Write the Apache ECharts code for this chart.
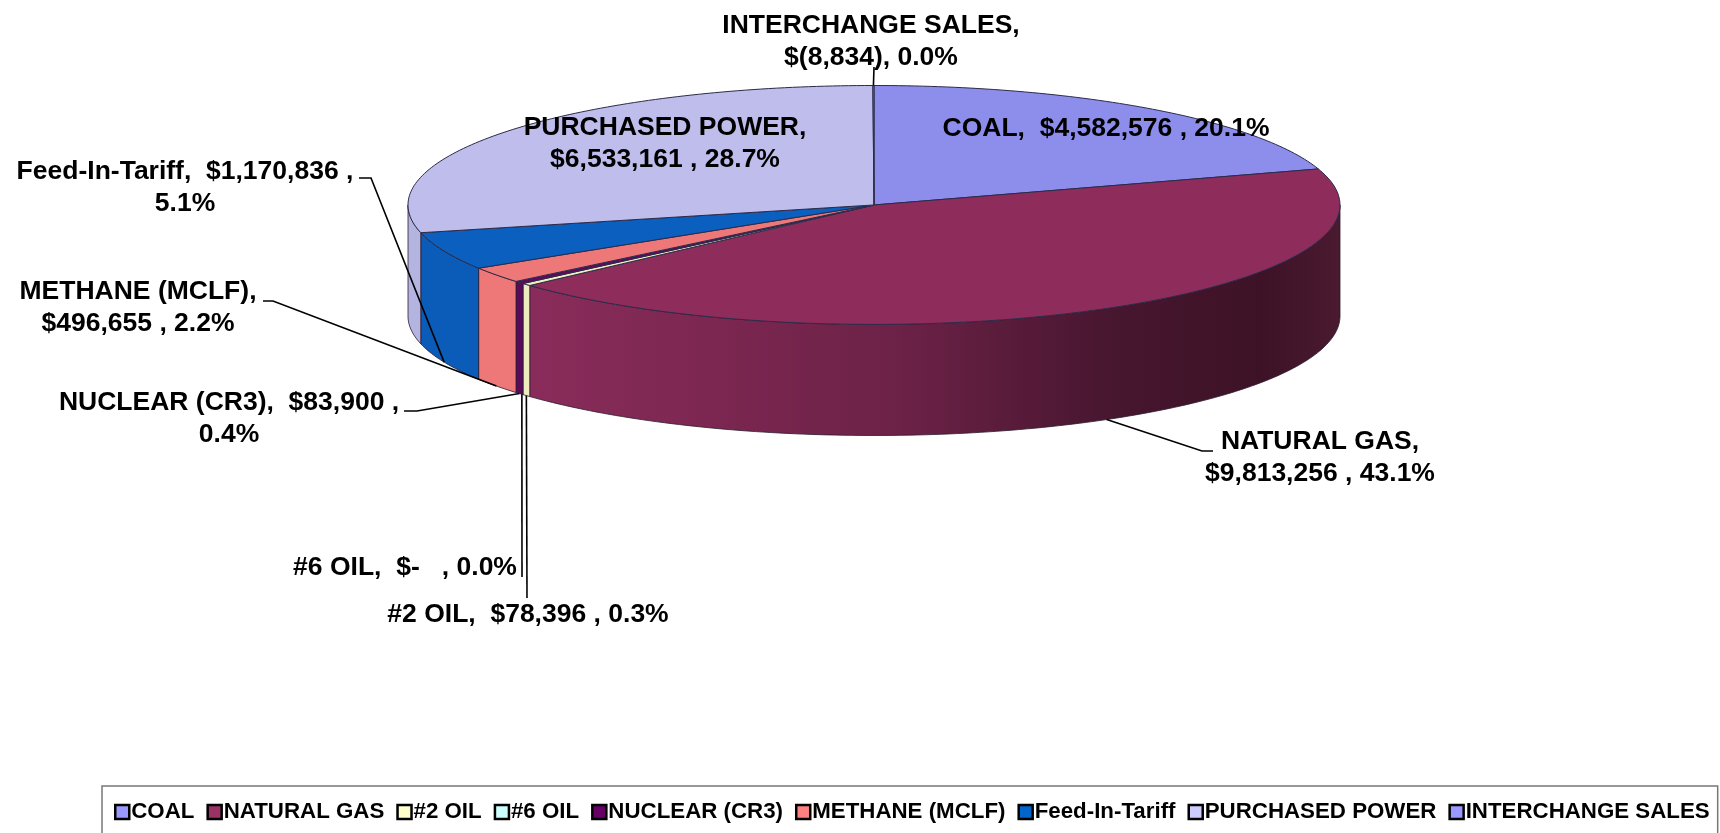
<!DOCTYPE html>
<html>
<head>
<meta charset="utf-8">
<title>Fuel cost pie</title>
<script src="https://cdn.jsdelivr.net/npm/echarts@6/dist/echarts.min.js"></script>
<style>
  html, body { margin: 0; padding: 0; background: #fff; }
  #chart { width: 1720px; height: 833px; }
</style>
</head>
<body>
<div id="chart"></div>
<script>
// values (interchange is negative, the pie plots its size)
const categories = ['COAL', 'NATURAL GAS', '#2 OIL', '#6 OIL', 'NUCLEAR (CR3)', 'METHANE (MCLF)', 'Feed-In-Tariff', 'PURCHASED POWER', 'INTERCHANGE SALES'];
const costs = [4582576, 9813256, 78396, 0, 83900, 496655, 1170836, 6533161, -8834];
const labelTexts = [
  'COAL,  $4,582,576 , 20.1%',
  'NATURAL GAS,\n$9,813,256 , 43.1%',
  '#2 OIL,  $78,396 , 0.3%',
  '#6 OIL,  $-   , 0.0%',
  'NUCLEAR (CR3),  $83,900 ,\n0.4%',
  'METHANE (MCLF),\n$496,655 , 2.2%',
  'Feed-In-Tariff,  $1,170,836 ,\n5.1%',
  'PURCHASED POWER,\n$6,533,161 , 28.7%',
  'INTERCHANGE SALES,\n$(8,834), 0.0%'
];

const legendColors = ['#9999ff', '#993366', '#ffffcc', '#ccffff', '#660066', '#ff8080', '#0066cc', '#ccccff', '#9999ff'];
const topColors = ['#8d8dec', '#8e2d5c', '#f0f0c0', '#c0f0f0', '#5e0a5e', '#ee7777', '#0a5fbf', '#bfbdec', '#8d8dec'];
const sideColors = ['#8686e0', '#8a2c5b', '#ecedbe', '#bce8e8', '#5a0a5a', '#ee7777', '#0a5cb8', '#b4b4e0', '#8686e0'];
const gasSideStops = [
  [0, '#8a2c5b'], [0.45, '#6d2247'], [0.72, '#47162f'], [0.9, '#3d1226'], [1, '#4a1a30']
];

// label centre, then the leader's elbow points, in page pixels
const labelLayout = [
  { x: 1106, y: 129 },
  { x: 1320, y: 458, leader: [[1213, 451], [1202, 451]], rim: true },
  { x: 528, y: 615, leader: [[527, 598]], rim: true },
  { x: 405, y: 568, leader: [[522, 577]], rim: true, edge: true },
  { x: 229, y: 419, leader: [[404, 411], [417, 411]], rim: true },
  { x: 138, y: 308, leader: [[263, 301], [273, 301]], rim: true },
  { x: 185, y: 188, leader: [[359, 178], [371, 178]], rim: true },
  { x: 665, y: 144 },
  { x: 871, y: 42, leader: [[874, 67]] }
];

const DEPTH = 0.93; // pie thickness, in the y axis units

const sizes = costs.map(v => Math.abs(v));
const total = sizes.reduce((a, b) => a + b, 0);
let running = 0;
const shares = sizes.map(v => {
  const from = running / total;
  running += v;
  return [from, running / total];
});

// turn a share of the pie into a point on the unit circle of the hidden axes
function rimPoint(share, drop) {
  const a = share * Math.PI * 2;
  return [Math.sin(a), Math.cos(a) - (drop || 0)];
}

function arcPoints(api, from, to, drop) {
  const pts = [];
  const steps = Math.max(1, Math.ceil((to - from) * 360));
  for (let i = 0; i <= steps; i++) {
    pts.push(api.coord(rimPoint(from + (to - from) * i / steps, drop)));
  }
  return pts;
}

function renderSlice(params, api) {
  const idx = params.seriesIndex;
  const from = api.value(2);
  const to = api.value(3);
  if (to <= from) return { type: 'group', children: [] };
  const children = [];
  const lineStyle = { stroke: '#2b2b4a', lineWidth: 1 };

  // only the front half of the wall can be seen
  const wallFrom = Math.max(from, 0.25);
  const wallTo = Math.min(to, 0.75);
  if (wallTo > wallFrom) {
    const top = arcPoints(api, wallFrom, wallTo, 0);
    const bottom = arcPoints(api, wallFrom, wallTo, DEPTH).reverse();
    const fill = idx === 1
      ? new echarts.graphic.LinearGradient(0, 0, 1, 0, gasSideStops.map(s => ({ offset: s[0], color: s[1] })))
      : sideColors[idx];
    children.push({
      type: 'polygon',
      shape: { points: top.concat(bottom) },
      style: { fill: fill, stroke: '#2b1a30', lineWidth: 0.8 }
    });
  }

  const face = [api.coord([0, 0])].concat(arcPoints(api, from, to, 0));
  children.push({
    type: 'polygon',
    shape: { points: face },
    style: Object.assign({ fill: topColors[idx] }, lineStyle)
  });
  return { type: 'group', children: children };
}

function renderLabel(params, api) {
  const idx = params.dataIndex;
  const mid = (api.value(2) + api.value(3)) / 2;
  const lay = labelLayout[idx];
  const children = [];
  if (lay.leader) {
    const end = api.coord(rimPoint(lay.edge ? api.value(3) + 0.0006 : mid, lay.rim ? DEPTH : 0));
    children.push({
      type: 'polyline',
      shape: { points: lay.leader.concat([end]) },
      style: { fill: 'none', stroke: '#000', lineWidth: 1.6 }
    });
  }
  children.push({
    type: 'text',
    style: {
      text: labelTexts[idx],
      x: lay.x,
      y: lay.y,
      align: 'center',
      verticalAlign: 'middle',
      fill: '#000',
      font: 'bold 26.5px "Liberation Sans", Arial, sans-serif',
      lineHeight: 32
    }
  });
  return { type: 'group', children: children };
}

const sliceSeries = categories.map((name, i) => ({
  name: name,
  type: 'custom',
  coordinateSystem: 'cartesian2d',
  renderItem: renderSlice,
  encode: { x: 0, y: 1 },
  itemStyle: { color: legendColors[i] },
  data: [[0, 0, shares[i][0], shares[i][1], costs[i]]],
  z: 2
}));

const labelSeries = {
  name: 'labels',
  type: 'custom',
  coordinateSystem: 'cartesian2d',
  renderItem: renderLabel,
  encode: { x: 0, y: 1 },
  data: categories.map((name, i) => [0, 0, shares[i][0], shares[i][1], costs[i]]),
  z: 5
};

const chart = echarts.init(document.getElementById('chart'));
chart.setOption({
  animation: false,
  backgroundColor: '#fff',
  // hidden axes: -1..1 is the top ellipse, the rest of y is the wall
  grid: { left: 408, width: 932, top: 85.5, height: 350 },
  xAxis: { type: 'value', min: -1, max: 1, show: false },
  yAxis: { type: 'value', min: -1 - DEPTH, max: 1, show: false },
  legend: {
    data: categories,
    left: 102,
    top: 786,
    padding: [15, 8, 40, 12],
    itemWidth: 14,
    itemHeight: 14,
    itemGap: 12,
    icon: 'rect',
    itemStyle: { borderColor: '#000', borderWidth: 2.5 },
    borderColor: '#777',
    borderWidth: 1.5,
    textStyle: {
      color: '#000',
      fontFamily: '"Liberation Sans", Arial, sans-serif',
      fontWeight: 'bold',
      fontSize: 22.3,
      padding: [0, 0, 0, -3]
    }
  },
  series: sliceSeries.concat([labelSeries])
});

window.addEventListener('resize', () => chart.resize());
</script>
</body>
</html>
